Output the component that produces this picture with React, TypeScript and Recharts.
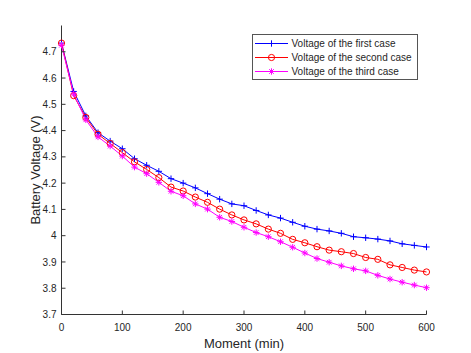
import React from 'react';
import { LineChart, Line, XAxis, YAxis, Legend } from 'recharts';

const minutes = [0, 20, 40, 60, 80, 100, 120, 140, 160, 180, 200, 220, 240, 260, 280, 300, 320, 340, 360, 380, 400, 420, 440, 460, 480, 500, 520, 540, 560, 580, 600];
const firstCase = [4.733, 4.549, 4.456, 4.392, 4.36, 4.331, 4.293, 4.268, 4.245, 4.217, 4.2, 4.182, 4.16, 4.139, 4.121, 4.114, 4.096, 4.079, 4.067, 4.051, 4.036, 4.025, 4.018, 4.009, 3.996, 3.992, 3.987, 3.98, 3.969, 3.963, 3.957];
const secondCase = [4.733, 4.533, 4.45, 4.386, 4.351, 4.316, 4.281, 4.252, 4.221, 4.185, 4.17, 4.147, 4.127, 4.101, 4.079, 4.06, 4.045, 4.025, 4.009, 3.986, 3.973, 3.958, 3.945, 3.939, 3.932, 3.917, 3.91, 3.889, 3.879, 3.869, 3.862];
const thirdCase = [4.725, 4.539, 4.441, 4.376, 4.341, 4.303, 4.261, 4.236, 4.203, 4.169, 4.152, 4.121, 4.101, 4.07, 4.054, 4.032, 4.012, 3.996, 3.977, 3.956, 3.934, 3.913, 3.899, 3.885, 3.874, 3.866, 3.849, 3.835, 3.823, 3.812, 3.802];

const xTicks = [0, 100, 200, 300, 400, 500, 600];
const yTicks = [3.7, 3.8, 3.9, 4.0, 4.1, 4.2, 4.3, 4.4, 4.5, 4.6, 4.7];
const seriesNames = ['Voltage of the first case', 'Voltage of the second case', 'Voltage of the third case'];
const seriesKeys = ['first', 'second', 'third'];
const seriesColors = ['#0000ff', '#ff0000', '#ff00ff'];
const seriesMarkers = ['plus', 'circle', 'star'];

const data = minutes.map((m, i) => ({
  minute: m,
  first: firstCase[i],
  second: secondCase[i],
  third: thirdCase[i],
}));

const AXIS = '#333333';
const TEXT = '#262626';
const FONT = '"Liberation Sans", Arial, Helvetica, sans-serif';

function Marker({ kind, cx, cy, color }: { kind: string; cx: number; cy: number; color: string }) {
  if (cx == null || cy == null) return null;
  const s = 3.2;
  if (kind === 'plus') {
    return (
      <g stroke={color} strokeWidth={1} fill="none">
        <line x1={cx - s} y1={cy} x2={cx + s} y2={cy} />
        <line x1={cx} y1={cy - s} x2={cx} y2={cy + s} />
      </g>
    );
  }
  if (kind === 'circle') {
    return <circle cx={cx} cy={cy} r={3.1} stroke={color} strokeWidth={1} fill="none" />;
  }
  const d = s * 0.72;
  return (
    <g stroke={color} strokeWidth={1} fill="none">
      <line x1={cx - s} y1={cy} x2={cx + s} y2={cy} />
      <line x1={cx} y1={cy - s} x2={cx} y2={cy + s} />
      <line x1={cx - d} y1={cy - d} x2={cx + d} y2={cy + d} />
      <line x1={cx - d} y1={cy + d} x2={cx + d} y2={cy - d} />
    </g>
  );
}

const renderLegend = () => (
  <svg width={166} height={46} style={{ display: 'block' }}>
    <rect x={0.5} y={0.5} width={165} height={45} fill="#ffffff" stroke="#555555" strokeWidth={1} />
    {seriesNames.map((name, i) => {
      const cy = 9.5 + i * 14;
      return (
        <g key={name}>
          <line x1={3} y1={cy} x2={36} y2={cy} stroke={seriesColors[i]} strokeWidth={1} />
          <Marker kind={seriesMarkers[i]} cx={19.5} cy={cy} color={seriesColors[i]} />
          <text x={39.5} y={cy + 3.6} fontSize={10} fontFamily={FONT} fill={TEXT}>
            {name}
          </text>
        </g>
      );
    })}
  </svg>
);

export default function App() {
  return (
    <div style={{ position: 'absolute', left: 0, top: 0, width: 471, height: 353, background: '#fff' }}>
      <LineChart
        width={471}
        height={353}
        data={data}
        margin={{ top: 25.5, right: 44.5, bottom: 0, left: 0.5 }}
      >
        <XAxis
          dataKey="minute"
          type="number"
          domain={[0, 600]}
          ticks={xTicks}
          height={38.5}
          stroke={AXIS}
          tickSize={-4}
          tickMargin={13}
          tick={{ fill: TEXT, fontSize: 10, fontFamily: FONT }}
          label={{
            value: 'Moment (min)',
            content: (p: any) => {
              const vb = p.viewBox || { x: 61.5, y: 314.5, width: 365, height: 38.5 };
              return (
                <text x={vb.x + vb.width / 2} y={vb.y + 33.5} textAnchor="middle" fontSize={13} fontFamily={FONT} fill={TEXT}>
                  Moment (min)
                </text>
              );
            },
          }}
        />
        <XAxis
          xAxisId="top"
          orientation="top"
          dataKey="minute"
          type="number"
          domain={[0, 600]}
          ticks={xTicks}
          height={0}
          stroke={AXIS}
          tickSize={-4}
          tick={false}
        />
        <YAxis
          type="number"
          domain={[3.7, 4.8]}
          ticks={yTicks}
          width={61}
          stroke={AXIS}
          tickSize={-4}
          tickMargin={9}
          tickFormatter={(v: number) => String(Math.round(v * 10) / 10)}
          tick={{ fill: TEXT, fontSize: 10, fontFamily: FONT }}
          label={{
            value: 'Battery Voltage (V)',
            content: (p: any) => {
              const vb = p.viewBox || { x: 0.5, y: 25.5, width: 61, height: 289 };
              const cx = 40;
              const cy = vb.y + vb.height / 2;
              return (
                <text x={cx} y={cy} transform={`rotate(-90 ${cx} ${cy})`} textAnchor="middle" fontSize={13} fontFamily={FONT} fill={TEXT}>
                  Battery Voltage (V)
                </text>
              );
            },
          }}
        />
        <YAxis
          yAxisId="right"
          orientation="right"
          type="number"
          domain={[3.7, 4.8]}
          ticks={yTicks}
          width={0}
          stroke={AXIS}
          tickSize={-4}
          tick={false}
        />
        {seriesKeys.map((k, i) => (
          <Line
            key={k}
            dataKey={k}
            name={seriesNames[i]}
            stroke={seriesColors[i]}
            strokeWidth={1}
            isAnimationActive={false}
            dot={(p: any) => (
              <Marker key={`${k}-${p.index}`} kind={seriesMarkers[i]} cx={p.cx} cy={p.cy} color={seriesColors[i]} />
            )}
            activeDot={false}
          />
        ))}
        <Legend
          layout="vertical"
          align="center"
          verticalAlign="middle"
          content={renderLegend}
          wrapperStyle={{ position: 'absolute', left: 252, top: 34, width: 166, height: 46 }}
        />
      </LineChart>
    </div>
  );
}
